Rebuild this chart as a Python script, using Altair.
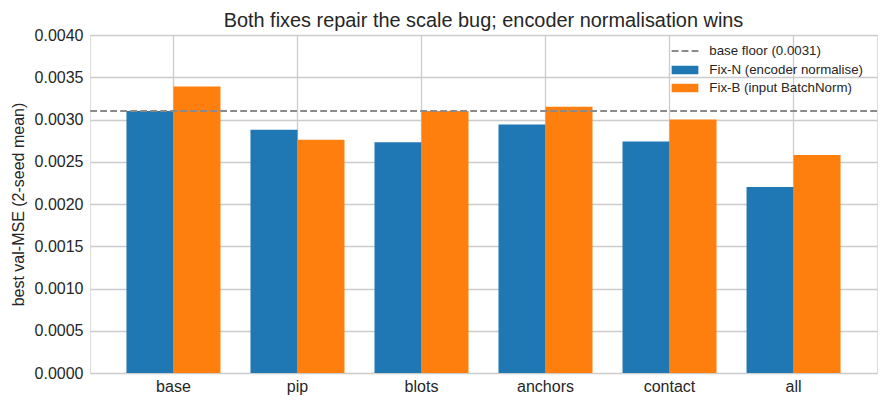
import altair as alt
import pandas as pd

categories = ["base", "pip", "blots", "anchors", "contact", "all"]
fix_n = [0.00310, 0.00288, 0.00273, 0.00294, 0.00274, 0.00220]
fix_b = [0.00339, 0.00276, 0.00310, 0.00315, 0.00300, 0.00258]
series_names = ["Fix-N (encoder normalise)", "Fix-B (input BatchNorm)"]
series_colors = ["#1f77b4", "#ff7f0e"]
floor_value = 0.0031
floor_label = "base floor (0.0031)"
y_ticks = [0.0, 0.0005, 0.0010, 0.0015, 0.0020, 0.0025, 0.0030, 0.0035, 0.0040]

rows = []
for c, a, b in zip(categories, fix_n, fix_b):
    rows.append({"cat": c, "series": series_names[0], "val": a})
    rows.append({"cat": c, "series": series_names[1], "val": b})
df = pd.DataFrame(rows)
floor_df = pd.DataFrame({"floor": [floor_value], "label": [floor_label]})

FONT = "Liberation Sans"
TXT = "#262626"

bars = alt.Chart(df).mark_bar().encode(
    x=alt.X("cat:N", sort=categories,
            scale=alt.Scale(paddingInner=0.242, paddingOuter=0.294),
            axis=alt.Axis(title=None, labelAngle=0, ticks=False, domain=False,
                          grid=True, gridColor="#cccccc", gridWidth=1.33,
                          labelFontSize=16, labelFont=FONT, labelColor=TXT,
                          labelPadding=5)),
    xOffset=alt.XOffset("series:N", sort=series_names,
                        scale=alt.Scale(domain=series_names, paddingInner=0, paddingOuter=0)),
    y=alt.Y("val:Q",
            scale=alt.Scale(domain=[0, 0.004], nice=False, zero=True),
            axis=alt.Axis(title="best val-MSE (2-seed mean)", values=y_ticks, format=".4f",
                          ticks=False, domain=False, grid=True, gridColor="#cccccc",
                          gridWidth=1.33, labelFontSize=16, labelFont=FONT,
                          labelColor=TXT, labelPadding=7, titleFontSize=16,
                          titleFont=FONT, titleFontWeight="normal", titleColor=TXT,
                          titlePadding=8)),
    color=alt.Color("series:N", sort=series_names,
                    scale=alt.Scale(domain=series_names, range=series_colors),
                    legend=alt.Legend(title=None, orient="none", legendX=587, legendY=27,
                                      padding=0,
                                      symbolType="M-1.669,-0.53H1.669V0.53H-1.669Z",
                                      symbolSize=256, symbolStrokeWidth=0,
                                      symbolOpacity=1, rowPadding=3,
                                      labelOffset=16.3, labelFontSize=13.3,
                                      labelFont=FONT, labelColor=TXT)),
)

rule = alt.Chart(floor_df).mark_rule(strokeDash=[6.8, 3.2], strokeWidth=2).encode(
    y=alt.Y("floor:Q"),
    stroke=alt.Stroke("label:N",
                      scale=alt.Scale(domain=[floor_label], range=["#8a8a8a"]),
                      legend=alt.Legend(title=None, orient="none", legendX=580.5, legendY=1.5,
                                        padding=0, symbolType="stroke", symbolSize=713,
                                        symbolStrokeWidth=2, symbolDash=[6.8, 3.2],
                                        labelOffset=9.8, labelFontSize=13.3,
                                        labelFont=FONT, labelColor=TXT)),
)

chart = alt.layer(bars, rule).properties(
    width=787, height=338,
    title=alt.TitleParams("Both fixes repair the scale bug; encoder normalisation wins",
                          fontSize=19.9, font=FONT, fontWeight="normal", color=TXT,
                          anchor="middle", offset=-3.5),
    autosize=alt.AutoSizeParams(type="none"),
    padding={"left": 82, "top": 27, "right": 2, "bottom": 27},
).configure_view(stroke="#cccccc", strokeWidth=1.67).configure(background="white")

chart.save("out.html", embed_options={"renderer": "svg", "actions": False})
